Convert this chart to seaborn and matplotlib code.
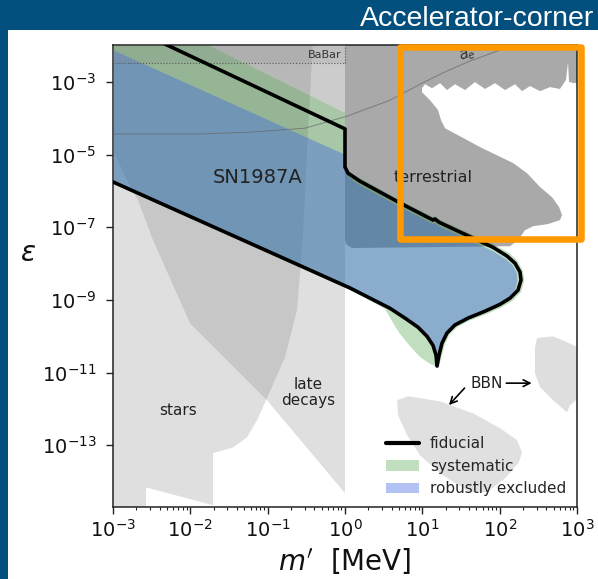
import numpy as np
import matplotlib
matplotlib.use("Agg")
import matplotlib.pyplot as plt
import seaborn as sns
from matplotlib.patches import Rectangle, Patch
from matplotlib.lines import Line2D
from matplotlib.ticker import LogLocator, FixedLocator, NullLocator

# ---- exclusion contours, as (log10 m'/MeV, log10 epsilon) vertices ----
# fiducial SN1987A bound (open curve, runs off the left edge at both ends)
fid_logm = [-2.8, 0.0, 0.0, 0.039, 0.13, 0.194, 0.711, 1.138, 1.164, 1.216, 1.487,
            1.914, 2.095, 2.199, 2.263, 2.276, 2.237, 2.134, 2.005, 1.81, 1.59, 1.42,
            1.319, 1.254, 1.216, 1.19, 1.177, 1.138, 1.06, 0.944, 0.776, 0.582,
            0.323, 0.065, -3.2]
fid_logeps = [-1.48, -4.29, -5.34, -5.51, -5.64, -5.73, -6.33, -6.80, -6.77, -6.86, -7.13,
              -7.55, -7.79, -7.99, -8.23, -8.45, -8.73, -8.95, -9.12, -9.31, -9.50, -9.69,
              -9.91, -10.19, -10.52, -10.82, -10.52, -10.25, -10.0, -9.75, -9.50, -9.23,
              -8.95, -8.67, -5.56]

# systematic band
sys_logm = [-3.2, -2.51, 0.0, 0.0, 0.03, 0.13, 0.194, 0.711, 1.138, 1.164, 1.216, 1.487,
            1.914, 2.12, 2.23, 2.30, 2.32, 2.28, 2.17, 2.03, 1.83, 1.61, 1.45, 1.35,
            1.29, 1.25, 1.21, 1.10, 0.97, 0.84, 0.71, 0.62, 0.52, 0.32, 0.065, -3.2]
sys_logeps = [-1.2, -1.2, -3.85, -5.30, -5.42, -5.56, -5.65, -6.25, -6.72, -6.69, -6.78, -7.05,
              -7.46, -7.70, -7.92, -8.20, -8.45, -8.77, -9.02, -9.20, -9.39, -9.57, -9.75, -9.96,
              -10.22, -10.55, -10.86, -10.76, -10.57, -10.27, -9.93, -9.63, -9.25, -9.01,
              -8.73, -5.61]

# robustly excluded region
rob_logm = [-3.2, 0.0, 0.0, 0.05, 0.13, 0.194, 0.711, 1.138, 1.164, 1.216, 1.487, 1.914,
            2.08, 2.17, 2.22, 2.23, 2.20, 2.12, 2.0, 1.81, 1.59, 1.42, 1.31, 1.245, 1.205,
            1.19, 1.17, 1.13, 1.05, 0.94, 0.776, 0.582, 0.323, 0.065, -3.2]
rob_logeps = [-1.93, -5.0, -5.45, -5.62, -5.75, -5.84, -6.44, -6.91, -6.88, -6.97, -7.24, -7.66,
              -7.88, -8.05, -8.25, -8.45, -8.72, -8.93, -9.10, -9.30, -9.49, -9.68, -9.90,
              -10.18, -10.5, -10.75, -10.5, -10.25, -10.0, -9.75, -9.5, -9.23, -8.95, -8.67,
              -5.56]

# stellar cooling
stars_logm = [-3.2, -0.414, -0.491, -0.543, -0.582, -0.621, -0.776, -1.034, -1.138,
              -1.267, -1.448, -1.707, -1.707, -2.573, -2.573, -3.2]
stars_logeps = [-1.8, -1.8, -4.87, -7.16, -8.26, -9.28, -10.58, -11.82, -12.31,
                -12.78, -13.06, -13.22, -14.65, -14.16, -14.9, -14.9]

# late decays
late_logm = [-3.2, 0.0, 0.0, -1.009, -2.004, -2.483, -2.677, -2.819, -3.0, -3.2]
late_logeps = [-1.8, -1.8, -14.32, -11.76, -9.64, -7.35, -6.25, -5.70, -4.87, -4.4]

# beam dumps below BaBar, left of 1 MeV
dump_logm = [-2.6, 0.0, 0.0, -2.6]
dump_logeps = [-1.1, -3.85, -1.0, -1.0]

# terrestrial (m' > 1 MeV), with the a_e / collider gap cut out
terr_logm = [0.0, 3.1, 3.1, 2.961, 2.897, 2.884, 2.858, 2.78, 2.651, 2.522, 2.393, 2.289,
             2.199, 2.069, 1.94, 1.81, 1.681, 1.552, 1.423, 1.319, 1.229, 1.125, 1.035,
             0.996, 0.996, 1.099, 1.203, 1.242, 1.293, 1.746, 2.173, 2.354, 2.522, 2.677,
             2.768, 2.806, 2.780, 2.625, 2.431, 2.328, 2.237, 2.134, 0.091, 0.013, 0.0]
terr_logeps = [-1.8, -1.8, -3.0, -3.03, -3.0, -2.45, -2.94, -3.19, -3.14, -3.25, -3.11, -3.25,
               -3.06, -3.22, -3.03, -3.19, -3.0, -3.22, -3.06, -3.22, -3.03, -3.17, -3.06,
               -3.17, -3.28, -3.50, -3.77, -4.05, -4.27, -4.79, -5.23, -5.51, -5.89, -6.17,
               -6.44, -6.66, -6.80, -6.91, -6.97, -7.08, -7.35, -7.52, -7.57, -7.46, -7.35]

# BaBar
babar_logm = [-3.2, 0.0, 0.0, -3.2]
babar_logeps = [-2.48, -2.48, -1.8, -1.8]

# BBN
bbn1_logm = [0.673, 0.815, 1.229, 1.655, 2.005, 2.224, 2.289, 2.250, 2.069, 1.836, 1.617,
             1.267, 0.970, 0.802, 0.686]
bbn1_logeps = [-11.76, -11.65, -11.79, -12.12, -12.53, -12.86, -13.19, -13.47, -13.91,
               -14.29, -14.29, -13.83, -13.28, -12.72, -12.17]
bbn2_logm = [2.457, 2.483, 2.690, 2.871, 3.1, 3.1, 2.910, 2.871, 2.690, 2.522, 2.457]
bbn2_logeps = [-10.30, -10.05, -10.0, -10.16, -10.4, -11.54, -11.90, -12.09, -11.76, -11.40,
               -11.02]

# electron g-2 curve
ae_logm = [-3.0, -1.875, -1.228, -0.517, 0.026, 0.582, 0.970, 1.293, 1.617, 1.966, 2.302]
ae_logeps = [-4.43, -4.43, -4.38, -4.27, -3.94, -3.50, -3.06, -2.72, -2.42, -2.15, -1.93]

eps_tick_exps = [-3, -5, -7, -9, -11, -13]

# ---- figure ----
sns.set_theme(style="ticks")
plt.rcParams['font.family'] = ['DejaVu Sans']
plt.rcParams['mathtext.fontset'] = 'dejavusans'

fig = plt.figure(figsize=(5.98, 5.79), dpi=100, facecolor='#03507e')
fig.add_artist(Rectangle((8 / 598, 0), 590 / 598, 549 / 579, transform=fig.transFigure,
                         facecolor='white', edgecolor='none', zorder=-5))
fig.text(594 / 598, 1 - 26 / 579, "Accelerator-corner", color='white', fontsize=20.5,
         family=['Liberation Sans', 'DejaVu Sans'], ha='right', va='baseline')

ax = fig.add_axes([113 / 598, 72 / 579, 464 / 598, 462 / 579])
ax.set_facecolor('white')
ax.set_xscale('log')
ax.set_yscale('log')


def region(logm, logeps, **kw):
    ax.fill(10 ** np.asarray(logm, float), 10 ** np.asarray(logeps, float),
            edgecolor='none', **kw)


region(stars_logm, stars_logeps, facecolor='gray', alpha=0.25, zorder=1)
region(late_logm, late_logeps, facecolor='gray', alpha=0.25, zorder=1)
region(dump_logm, dump_logeps, facecolor='gray', alpha=0.2, zorder=1)
region(terr_logm, terr_logeps, facecolor='#a9a9a9', alpha=1.0, zorder=1)
region(bbn1_logm, bbn1_logeps, facecolor='gray', alpha=0.24, zorder=1)
region(bbn2_logm, bbn2_logeps, facecolor='gray', alpha=0.26, zorder=1)

region(sys_logm, sys_logeps, facecolor='green', alpha=0.25, zorder=2)
region(rob_logm, rob_logeps, facecolor='royalblue', alpha=0.42, zorder=3)
region(babar_logm, babar_logeps, facecolor='gray', alpha=0.15, zorder=3)

ax.plot([1e-3, 1.0], [10 ** -2.48] * 2, ls=':', lw=0.8, color='#555555', zorder=4)
ax.plot([1.0, 1.0], [10 ** -2.48, 1e-1], ls=':', lw=0.8, color='#555555', zorder=4)

sns.lineplot(x=10 ** np.asarray(ae_logm), y=10 ** np.asarray(ae_logeps), sort=False,
             estimator=None, color='#666666', lw=0.7, alpha=0.7, ax=ax, zorder=4)
sns.lineplot(x=10 ** np.asarray(fid_logm), y=10 ** np.asarray(fid_logeps), sort=False,
             estimator=None, color='black', lw=2.6, ax=ax, zorder=5)

txt = '#222222'
ax.text(10 ** -1.125, 10 ** -5.64, "SN1987A", fontsize=14, color=txt, ha='center',
        va='center', zorder=6)
ax.text(10 ** 1.14, 10 ** -5.64, "terrestrial", fontsize=11.5, color=txt, ha='center',
        va='center', zorder=6)
ax.text(10 ** -2.159, 10 ** -12.04, "stars", fontsize=11, color=txt, ha='center',
        va='center', zorder=6)
ax.text(10 ** -0.478, 10 ** -11.54, "late\ndecays", fontsize=11, color=txt, ha='center',
        va='center', zorder=6, linespacing=1.1)
ax.text(10 ** -0.04, 10 ** -2.26, "BaBar", fontsize=8, color='#333333', ha='right',
        va='center', zorder=6)
ax.text(10 ** 1.59, 10 ** -2.26, r"$a_e$", fontsize=10.5, color='#333333', ha='center',
        va='center', rotation=18, zorder=6)
ax.text(10 ** 1.617, 10 ** -11.29, "BBN", fontsize=11, color=txt, ha='left',
        va='center', zorder=6)
ax.annotate("", xy=(10 ** 2.45, 10 ** -11.29), xytext=(10 ** 2.05, 10 ** -11.29),
            arrowprops=dict(arrowstyle='->', color='black', lw=1.2), zorder=6)
ax.annotate("", xy=(10 ** 1.32, 10 ** -11.95), xytext=(10 ** 1.57, 10 ** -11.37),
            arrowprops=dict(arrowstyle='->', color='black', lw=1.2), zorder=6)

ax.set_xlim(1e-3, 1e3)
ax.set_ylim(10 ** -14.7, 10 ** -1.98)
ax.xaxis.set_major_locator(LogLocator(base=10, numticks=20))
ax.xaxis.set_minor_locator(LogLocator(base=10, subs=np.arange(2, 10) * 1.0, numticks=20))
ax.yaxis.set_major_locator(FixedLocator(10.0 ** np.asarray(eps_tick_exps)))
ax.yaxis.set_minor_locator(NullLocator())
ax.tick_params(which='major', length=5, width=1.0, labelsize=14, direction='out',
               color='#222222', labelcolor='#111111')
ax.tick_params(which='minor', length=2.5, width=0.8, direction='out', color='#222222')
ax.tick_params(axis='y', which='major', pad=7)
for sp in ax.spines.values():
    sp.set_visible(True)
    sp.set_linewidth(1.1)
    sp.set_color('#222222')

ax.set_xlabel(r"$m'$  [MeV]", fontsize=20, color='#111111')
ax.xaxis.set_label_coords(0.5, -0.085)
ax.set_ylabel(r"$\varepsilon$", fontsize=20, rotation=0, color='#111111', ha='center',
              va='center')
ax.yaxis.set_label_coords(-0.183, 0.55)

handles = [Line2D([0], [0], color='black', lw=3),
           Patch(facecolor='green', alpha=0.25, edgecolor='none'),
           Patch(facecolor='royalblue', alpha=0.4, edgecolor='none')]
leg = ax.legend(handles, ["fiducial", "systematic", "robustly excluded"], loc='lower right',
                frameon=False, fontsize=11, handlelength=2.2, labelspacing=0.5,
                borderaxespad=0.3, handletextpad=0.7)
leg.set_zorder(7)

fig.add_artist(Rectangle((400 / 598, 1 - 238.5 / 579), 180.5 / 598, 192 / 579,
                         transform=fig.transFigure, fill=False, edgecolor='#ff9900',
                         lw=4.7, joinstyle='round', zorder=10))

fig.savefig("out.png", dpi=100, facecolor=fig.get_facecolor())
